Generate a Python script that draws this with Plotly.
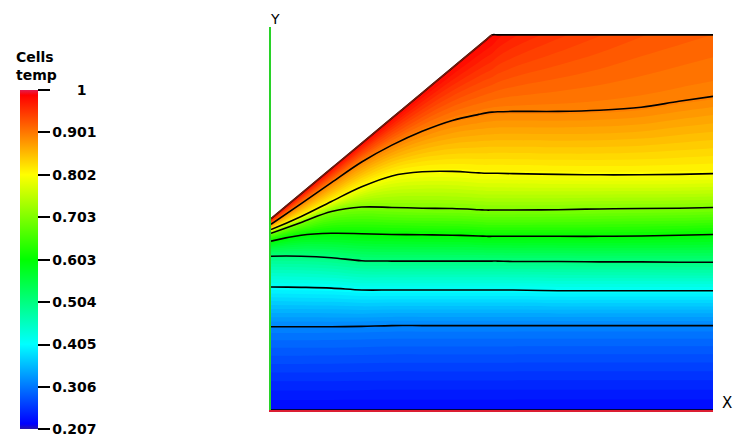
import plotly.graph_objects as go

# Temperature levels shown on the colour bar (also the isotherm levels)
temp_levels = [0.207, 0.306, 0.405, 0.504, 0.603, 0.703, 0.802, 0.901, 1.0]
tick_labels = ["0.207", "0.306", "0.405", "0.504", "0.603", "0.703", "0.802", "0.901", "1"]

# Domain geometry: left wall, inclined heated wall, flat top
domain_width = 1.17
domain_height = 1.0
left_wall_height = 0.51
ramp_end_x = 0.585

# Sampling stations along X
x_stations = [0.0, 0.08, 0.16, 0.24, 0.32, 0.40, 0.48, 0.55, 0.57, 0.585, 0.60,
              0.64, 0.76, 0.87, 0.98, 1.08, 1.17]

# Height of each interior isotherm at the stations
iso_0306 = [0.222, 0.222, 0.222, 0.223, 0.225, 0.225, 0.225, 0.225, 0.225, 0.225, 0.225,
            0.225, 0.225, 0.225, 0.225, 0.225, 0.225]
iso_0405 = [0.328, 0.327, 0.325, 0.320, 0.320, 0.320, 0.320, 0.320, 0.320, 0.320, 0.320,
            0.320, 0.318, 0.318, 0.318, 0.318, 0.318]
iso_0504 = [0.410, 0.410, 0.406, 0.398, 0.397, 0.397, 0.397, 0.397, 0.397, 0.397, 0.397,
            0.396, 0.396, 0.395, 0.395, 0.394, 0.394]
iso_0603 = [0.450, 0.466, 0.471, 0.470, 0.468, 0.467, 0.466, 0.464, 0.463, 0.463, 0.463,
            0.463, 0.463, 0.463, 0.464, 0.466, 0.468]
iso_0703 = [0.471, 0.500, 0.529, 0.541, 0.540, 0.538, 0.537, 0.534, 0.533, 0.533, 0.533,
            0.533, 0.534, 0.536, 0.537, 0.538, 0.540]
iso_0802 = [0.481, 0.516, 0.556, 0.595, 0.624, 0.635, 0.636, 0.632, 0.631, 0.631, 0.631,
            0.630, 0.628, 0.627, 0.627, 0.628, 0.630]
iso_0901 = [0.495, 0.550, 0.606, 0.661, 0.706, 0.743, 0.772, 0.788, 0.792, 0.794, 0.795,
            0.796, 0.796, 0.799, 0.807, 0.823, 0.836]

# Temperature along the upper boundary (inclined wall, then flat top)
top_temp = [1.0, 1.0, 1.0, 1.0, 1.0, 1.0, 1.0, 1.0, 1.0, 1.0, 0.992,
            0.980, 0.960, 0.948, 0.938, 0.932, 0.927]
bottom_temp = temp_levels[0]

n = len(x_stations)
top_height = [min(left_wall_height + (domain_height - left_wall_height) * x / ramp_end_x,
                  domain_height) for x in x_stations]
bottom_height = [0.0] * n

rows_y = [bottom_height, iso_0306, iso_0405, iso_0504, iso_0603,
          iso_0703, iso_0802, iso_0901, top_height]
rows_t = [[bottom_temp] * n] + [[lv] * n for lv in temp_levels[1:8]] + [top_temp]
b_index = list(range(len(rows_y)))
rows_x = [list(x_stations) for _ in rows_y]

hot = [[0.0, "rgb(0,0,255)"], [0.25, "rgb(0,255,255)"], [0.5, "rgb(0,255,0)"],
       [0.75, "rgb(255,255,0)"], [1.0, "rgb(255,0,0)"]]
# Same table for the legend bar, with its darker end caps
hot_bar = [[0.0, "rgb(40,20,170)"], [0.015, "rgb(0,0,255)"], [0.25, "rgb(0,255,255)"],
           [0.5, "rgb(0,255,0)"], [0.75, "rgb(255,255,0)"], [0.985, "rgb(255,0,0)"],
           [1.0, "rgb(225,30,80)"]]

fig = go.Figure()

# Filled temperature field on a body-fitted grid (fine bands, offset from node values)
fig.add_trace(go.Contourcarpet(
    a=x_stations, b=b_index, z=rows_t, carpet="field",
    colorscale=hot,
    autocontour=False,
    contours=dict(start=0.2072, end=0.998, size=0.01, coloring="fill", showlines=False),
    line=dict(width=0), showscale=False,
))

# Grid whose constant-b lines are the isotherms
fig.add_trace(go.Carpet(
    a=x_stations, b=b_index, x=rows_x, y=rows_y, carpet="field",
    aaxis=dict(smoothing=1, showgrid=False, startline=False, endline=False,
               showline=False, showticklabels="none", minorgridcount=0),
    baxis=dict(smoothing=1, showgrid=True, gridcolor="black", gridwidth=1.6,
               tickmode="array", tickvals=b_index[1:-1],
               startline=False, endline=False, showline=False,
               showticklabels="none", minorgridcount=0),
))

# Edge of the inclined wall
fig.add_trace(go.Scatter(
    x=[0.0, ramp_end_x], y=[left_wall_height, domain_height], mode="lines",
    line=dict(color="rgb(120,25,10)", width=1.6), hoverinfo="skip", showlegend=False,
))

# Colour bar
fig.add_trace(go.Scatter(
    x=[None], y=[None], mode="markers", showlegend=False, hoverinfo="skip",
    marker=dict(
        color=[temp_levels[0]], colorscale=hot_bar, cmin=temp_levels[0], cmax=temp_levels[-1],
        showscale=True,
        colorbar=dict(
            x=-0.5679, xanchor="left", xpad=0, y=0.3925, yanchor="middle", ypad=0,
            thickness=18, thicknessmode="pixels", len=339, lenmode="pixels",
            outlinewidth=0, ticks="outside", ticklen=12, tickwidth=2, tickcolor="black",
            tickvals=temp_levels,
            ticktext=[("\u00a0" * 5 + t) if t == "1" else t for t in tick_labels],
            tickfont=dict(family="DejaVu Sans", size=14, color="black", weight="bold"),
        ),
    ),
))

fig.update_layout(
    width=733, height=441, autosize=False,
    margin=dict(l=271, r=20, t=27, b=28),
    paper_bgcolor="white", plot_bgcolor="white",
    showlegend=False,
    xaxis=dict(range=[0, domain_width], showgrid=False, zeroline=False,
               showticklabels=False, ticks="", showline=True,
               linecolor="rgb(220,30,50)", linewidth=2, fixedrange=True),
    yaxis=dict(range=[0, 1.021], showgrid=False, zeroline=False,
               showticklabels=False, ticks="", showline=True,
               linecolor="rgb(40,210,40)", linewidth=2, fixedrange=True),
    annotations=[
        dict(text="Y", x=0.009, y=1.0207, xref="paper", yref="paper",
             showarrow=False, xanchor="center", yanchor="middle",
             font=dict(family="DejaVu Sans", size=14, color="black")),
        dict(text="X", x=1.0317, y=0.018, xref="paper", yref="paper",
             showarrow=False, xanchor="center", yanchor="middle",
             font=dict(family="DejaVu Sans", size=15, color="black")),
        dict(text="Cells<br>temp", x=-0.5814, y=0.9482, xref="paper", yref="paper",
             showarrow=False, xanchor="left", yanchor="top", align="left",
             font=dict(family="DejaVu Sans", size=14, color="black", weight="bold")),
    ],
)

fig.write_html("out.html")
